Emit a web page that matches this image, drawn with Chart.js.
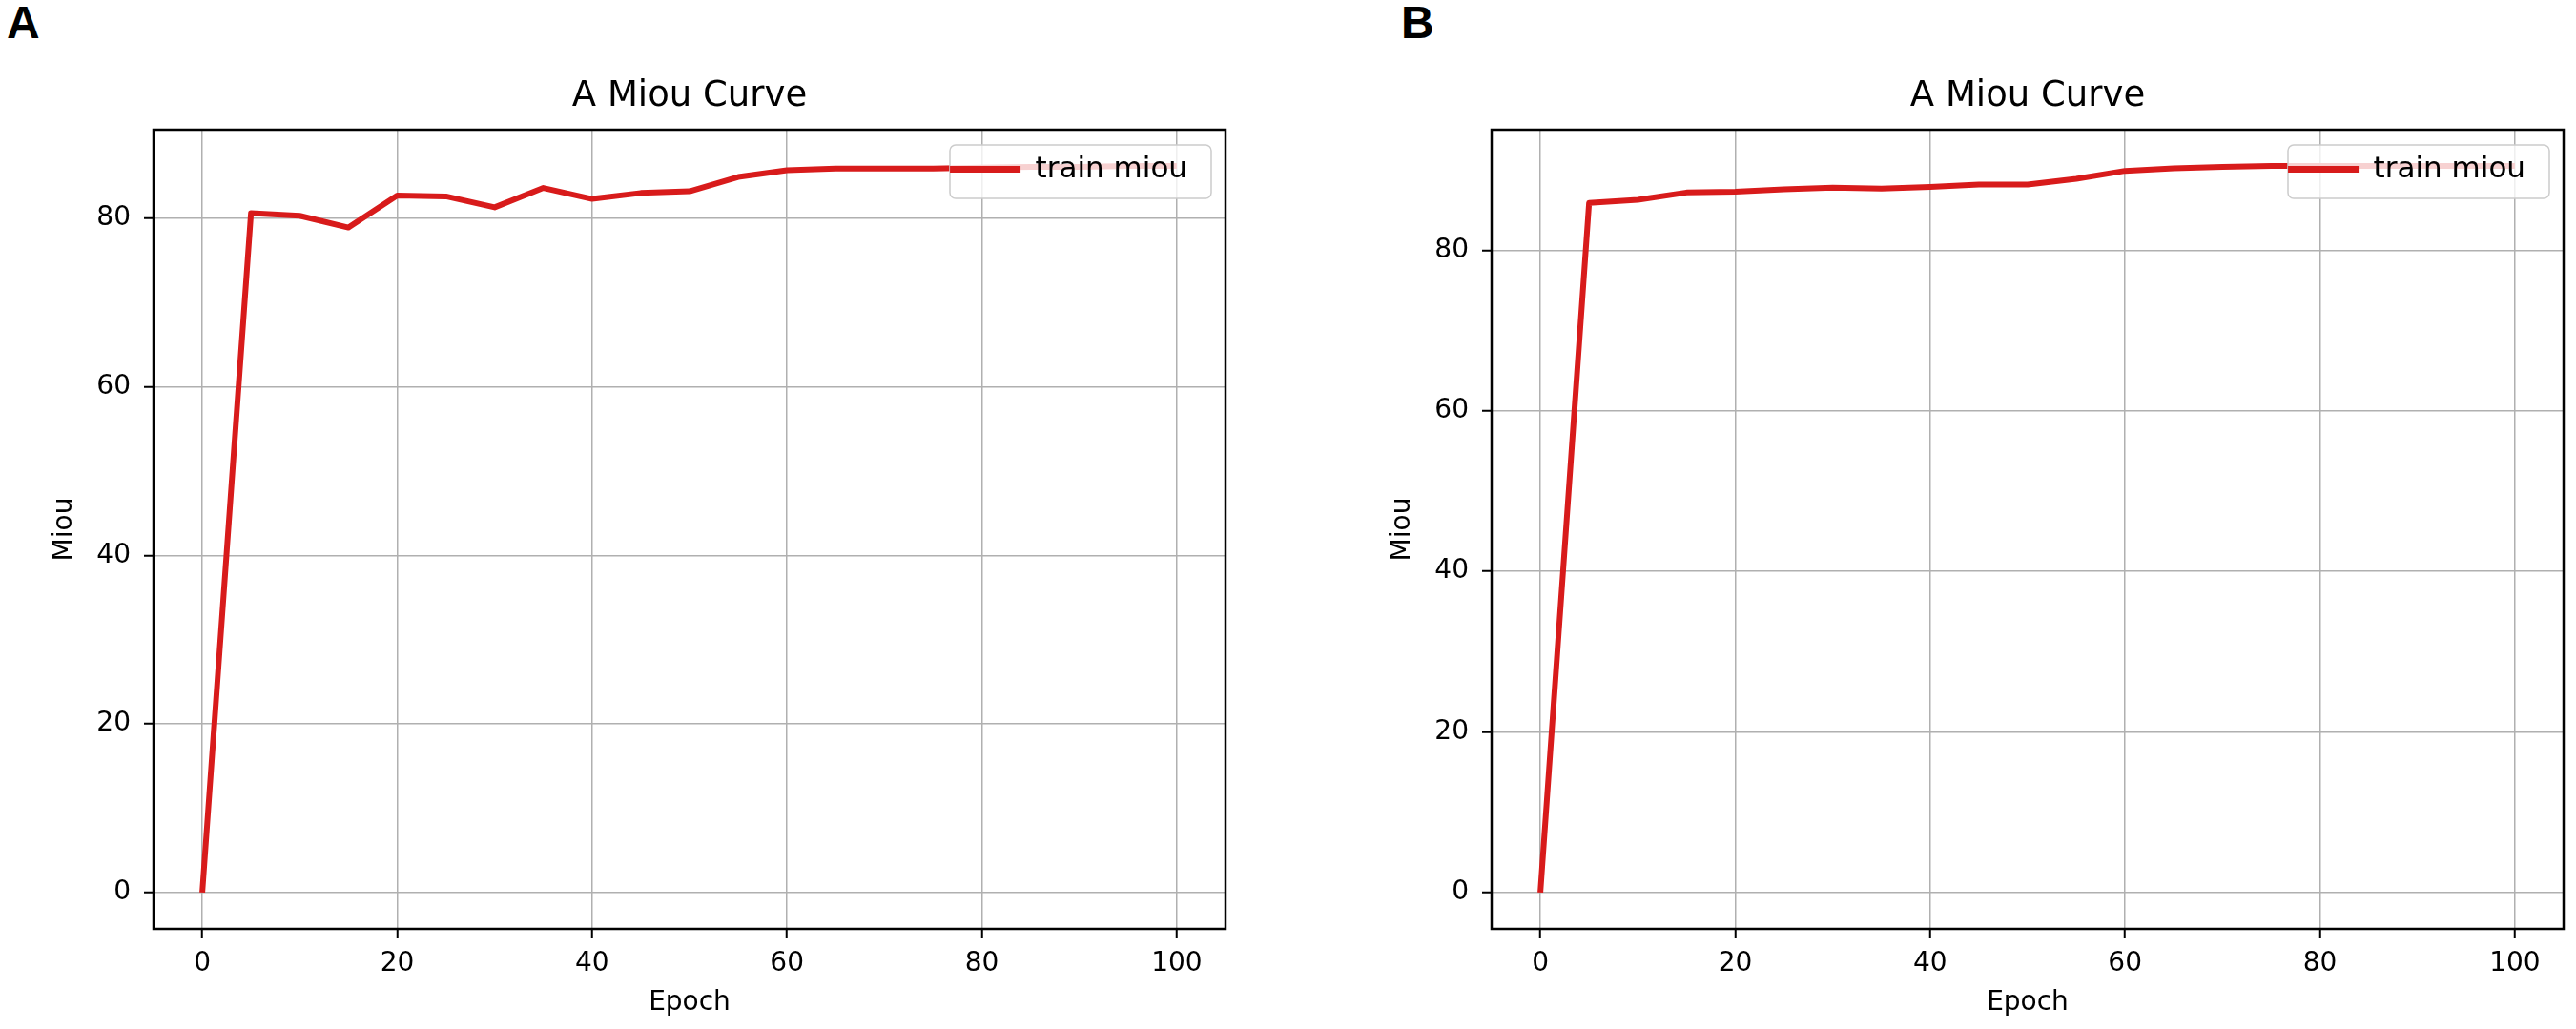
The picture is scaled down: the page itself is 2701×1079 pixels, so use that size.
<!DOCTYPE html>
<html>
<head>
<meta charset="utf-8">
<script src="https://cdn.jsdelivr.net/npm/chart.js@4.4.1/dist/chart.umd.min.js"></script>
<style>
html, body { margin: 0; padding: 0; background: #fff; width: 2701px; height: 1079px; overflow: hidden; position: relative; }
canvas { position: absolute; top: 0; }
.tag { position: absolute; top: 0; font: bold 48px "Liberation Sans", Arial, sans-serif; line-height: 1; color: #000; }
</style>
</head>
<body>
<div class="tag" style="left:7px">A</div>
<div class="tag" style="left:1469px">B</div>
<canvas id="chartA" width="1298" height="1079" style="left:0"></canvas>
<canvas id="chartB" width="1298" height="1079" style="left:1403px"></canvas>
<script>
// data
var epochs = [0, 5, 10, 15, 20, 25, 30, 35, 40, 45, 50, 55, 60, 65, 70, 75, 80, 85, 90, 95, 100];
var miouA = [0, 80.6, 80.3, 78.9, 82.7, 82.6, 81.3, 83.6, 82.3, 83.0, 83.2, 84.9, 85.7, 85.9, 85.9, 85.9, 86.0, 86.1, 86.1, 86.2, 86.2];
var miouB = [0, 85.9, 86.3, 87.2, 87.3, 87.6, 87.8, 87.7, 87.9, 88.2, 88.2, 88.9, 89.9, 90.2, 90.4, 90.5, 90.5, 90.5, 90.5, 90.5, 90.5];
var xTicks = [0, 20, 40, 60, 80, 100];
var yTicks = [0, 20, 40, 60, 80];
var titleText = 'A Miou Curve';
var seriesName = 'train miou';
var xLabel = 'Epoch';
var yLabel = 'Miou';

var lineColor = '#d81b1b';
Chart.defaults.font.family = '"DejaVu Sans", sans-serif';
Chart.defaults.color = '#000';

// matplotlib style 5% margins
function margins(vals) {
    var lo = Math.min.apply(null, vals), hi = Math.max.apply(null, vals);
    var m = (hi - lo) * 0.05;
    return [lo - m, hi + m];
}

// box round the axes, and the legend on top of the line
var framePlugin = {
    id: 'frame',
    afterLayout: function (chart) {
        var lg = chart.legend, ca = chart.chartArea;
        var w = lg.width;
        lg.left = ca.right - 30 - w;
        lg.right = lg.left + w;
        lg.top = ca.top;
    },
    afterDatasetsDraw: function (chart) {
        var ctx = chart.ctx, ca = chart.chartArea;
        ctx.save();
        ctx.strokeStyle = '#000';
        ctx.lineWidth = 2.5;
        ctx.strokeRect(ca.left, ca.top, ca.right - ca.left, ca.bottom - ca.top);
        ctx.beginPath();
        ctx.roundRect(ca.right - 289, ca.top + 16, 274, 56, 6);
        ctx.fillStyle = 'rgba(255,255,255,0.8)';
        ctx.fill();
        ctx.strokeStyle = '#cccccc';
        ctx.lineWidth = 1.5;
        ctx.stroke();
        ctx.restore();
        chart.legend.draw();
    }
};

function makeChart(id, values) {
    var xr = margins(epochs);
    var yr = margins(values);
    var points = epochs.map(function (e, i) { return { x: e, y: values[i] }; });
    var gridOpts = { color: '#b0b0b0', lineWidth: 1.5, tickColor: '#000', tickLength: 10, tickWidth: 2 };

    return new Chart(document.getElementById(id), {
        type: 'line',
        data: {
            datasets: [{
                label: seriesName,
                data: points,
                borderColor: lineColor,
                backgroundColor: lineColor,
                borderWidth: 6,
                borderJoinStyle: 'round',
                pointRadius: 0,
                tension: 0,
                fill: false
            }]
        },
        options: {
            responsive: false,
            animation: false,
            devicePixelRatio: 1,
            events: [],
            layout: { padding: { left: 0, right: 13, top: 0, bottom: 0 } },
            scales: {
                x: {
                    type: 'linear',
                    min: xr[0],
                    max: xr[1],
                    afterBuildTicks: function (s) { s.ticks = xTicks.map(function (v) { return { value: v }; }); },
                    afterFit: function (s) { s.height = 105; },
                    grid: gridOpts,
                    border: { display: false },
                    ticks: {
                        padding: 10, maxRotation: 0, autoSkip: false, color: '#000',
                        font: { size: 28 },
                        callback: function (v, i) { return String(xTicks[i]); }
                    },
                    title: { display: true, text: xLabel, color: '#000', font: { size: 28 }, padding: { top: 0, bottom: 10 } }
                },
                y: {
                    type: 'linear',
                    min: yr[0],
                    max: yr[1],
                    afterBuildTicks: function (s) { s.ticks = yTicks.map(function (v) { return { value: v }; }); },
                    afterFit: function (s) { s.width = 161; },
                    grid: gridOpts,
                    border: { display: false },
                    ticks: {
                        padding: 14, color: '#000',
                        font: { size: 28 },
                        callback: function (v, i) { return String(yTicks[i]); }
                    },
                    title: { display: true, text: yLabel, color: '#000', font: { size: 28 }, padding: { top: 51, bottom: 0 } }
                }
            },
            plugins: {
                title: {
                    display: true,
                    text: titleText,
                    fullSize: false,
                    color: '#000',
                    font: { size: 37, weight: 'normal', lineHeight: 1 },
                    padding: { top: 83, bottom: 16 }
                },
                legend: {
                    position: 'chartArea',
                    align: 'start',
                    labels: {
                        padding: 26,
                        boxWidth: 74,
                        boxHeight: 7,
                        color: '#000',
                        font: { size: 31 },
                        generateLabels: function (chart) {
                            return Chart.defaults.plugins.legend.labels.generateLabels(chart).map(function (it) {
                                it.lineWidth = 0;
                                return it;
                            });
                        }
                    }
                },
                tooltip: { enabled: false }
            }
        },
        plugins: [framePlugin]
    });
}

makeChart('chartA', miouA);
makeChart('chartB', miouB);
</script>
</body>
</html>
